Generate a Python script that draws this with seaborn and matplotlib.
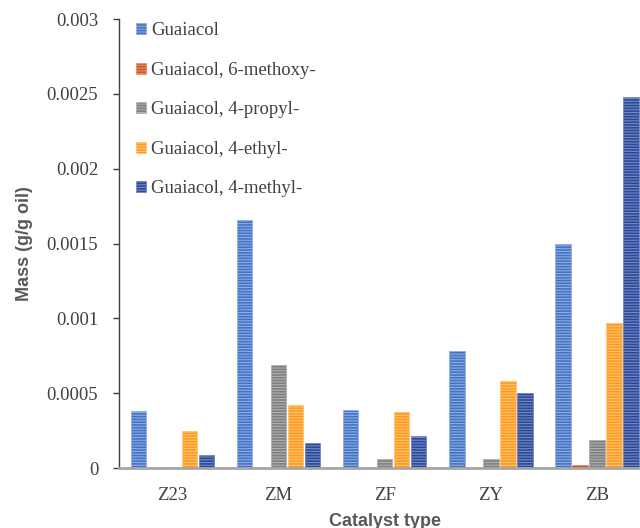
import matplotlib
matplotlib.use("Agg")
import matplotlib.pyplot as plt
import seaborn as sns
import pandas as pd
from matplotlib.patches import Patch

catalysts = ["Z23", "ZM", "ZF", "ZY", "ZB"]
series = ["Guaiacol", "Guaiacol, 6-methoxy-", "Guaiacol, 4-propyl-",
          "Guaiacol, 4-ethyl-", "Guaiacol, 4-methyl-"]
guaiacol = [0.00038, 0.00166, 0.00039, 0.00078, 0.00150]
methoxy6 = [0.0, 0.0, 0.0, 0.0, 0.00002]
propyl4 = [0.00001, 0.00069, 0.00006, 0.00006, 0.00019]
ethyl4 = [0.00025, 0.00042, 0.000375, 0.00058, 0.00097]
methyl4 = [0.000085, 0.000167, 0.000215, 0.0005, 0.00248]
yticks = [0, 0.0005, 0.001, 0.0015, 0.002, 0.0025, 0.003]
ytick_labels = ["0", "0.0005", "0.001", "0.0015", "0.002", "0.0025", "0.003"]

face = ["#4472C4", "#C9562A", "#7F7F7F", "#FF9A1C", "#2E4A94"]
stripe = ["#8FAEE0", "#E8906A", "#B0B0B0", "#FFC477", "#6F88C8"]

rows = []
for s, vals in zip(series, [guaiacol, methoxy6, propyl4, ethyl4, methyl4]):
    for c, v in zip(catalysts, vals):
        rows.append({"Catalyst": c, "Series": s, "Mass": v})
df = pd.DataFrame(rows)

sns.set_style("white")
plt.rcParams["hatch.linewidth"] = 0.8

fig = plt.figure(figsize=(6.4, 5.28), dpi=100)
ax = fig.add_axes([0.186, 0.1136, 0.830, 0.8504])

sns.barplot(data=df, x="Catalyst", y="Mass", hue="Series", hue_order=series,
            order=catalysts, palette=face, width=0.8, gap=0.1, ax=ax,
            legend=False, errorbar=None, saturation=1)

for i, cont in enumerate(ax.containers):
    for p in cont:
        p.set_hatch("------")
        p.set_edgecolor(stripe[i])
        p.set_linewidth(0.6)

ax.set_ylim(0, 0.003)
ax.set_xlim(-0.5, 4.5)
ax.set_yticks(yticks)
ax.set_yticklabels(ytick_labels, family="Liberation Serif", fontsize=13.5, color="#404040")
ax.set_xticks(range(len(catalysts)))
ax.set_xticklabels(catalysts, family="Liberation Serif", fontsize=13.5, color="#404040")
ax.tick_params(axis="x", length=0, pad=14)
ax.tick_params(axis="y", length=4, width=1, color="#404040", direction="out", pad=11, left=True)

for sp in ["top", "right"]:
    ax.spines[sp].set_visible(False)
ax.spines["left"].set_color("#404040")
ax.spines["left"].set_linewidth(1.0)
ax.spines["bottom"].set_color("#A6A6A6")
ax.spines["bottom"].set_linewidth(2.0)

ax.set_ylabel("Mass (g/g oil)", family="Liberation Sans", fontweight="bold",
              fontsize=13, color="#595959", labelpad=10)
ax.set_xlabel("Catalyst type", family="Liberation Sans", fontweight="bold",
              fontsize=13, color="#595959", labelpad=6)

handles = [Patch(facecolor=face[i], edgecolor=stripe[i], hatch="------", linewidth=0.6)
           for i in range(len(series))]
leg = ax.legend(handles, series, loc="upper left", bbox_to_anchor=(0.0, 1.03),
                frameon=False, prop={"family": "Liberation Serif", "size": 13.5},
                handlelength=0.55, handleheight=0.55, handletextpad=0.25,
                labelspacing=1.2, labelcolor="#404040")

fig.savefig("out.png", dpi=100)
